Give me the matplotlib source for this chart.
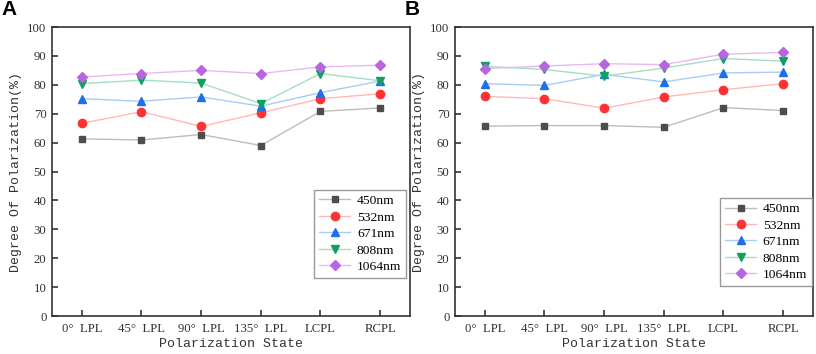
import matplotlib.pyplot as plt

states = ['0°  LPL', '45°  LPL', '90°  LPL', '135°  LPL', 'LCPL', 'RCPL']
wavelengths = ['450nm', '532nm', '671nm', '808nm', '1064nm']

# panel A
a_450 = [61.3, 60.9, 62.8, 59.0, 70.8, 72.0]
a_532 = [66.7, 70.7, 65.6, 70.3, 75.2, 76.9]
a_671 = [75.2, 74.3, 75.8, 72.6, 77.3, 81.3]
a_808 = [80.4, 81.6, 80.6, 73.5, 83.9, 81.4]
a_1064 = [82.7, 83.9, 85.0, 83.9, 86.2, 86.8]

# panel B
b_450 = [65.7, 65.9, 65.9, 65.3, 72.1, 71.1]
b_532 = [76.0, 75.2, 71.9, 75.8, 78.3, 80.4]
b_671 = [80.4, 79.8, 83.6, 81.0, 84.1, 84.4]
b_808 = [86.4, 85.3, 83.0, 85.8, 89.1, 88.2]
b_1064 = [85.6, 86.5, 87.3, 87.0, 90.6, 91.2]

marker_colors = ['#4d4d4d', '#ff3333', '#1f6fe8', '#10a060', '#b865e0']
line_colors = ['#bdbdbd', '#ffb8b8', '#a8cdf5', '#a4dfc4', '#e8b8f5']
markers = ['s', 'o', '^', 'v', 'D']
msizes = [5, 6, 6, 6, 5]

plt.rcParams['font.family'] = ['Liberation Serif', 'DejaVu Serif']
label_font = 'Liberation Mono'

fig = plt.figure(figsize=(8.16, 3.54), dpi=100)
ax_a = fig.add_axes([0.0637, 0.1073, 0.4387, 0.8164])
ax_b = fig.add_axes([0.5576, 0.1073, 0.4387, 0.8164])

panels = [
    (ax_a, [a_450, a_532, a_671, a_808, a_1064], 'A', (0.989, 0.436)),
    (ax_b, [b_450, b_532, b_671, b_808, b_1064], 'B', (0.997, 0.408)),
]

x = list(range(len(states)))
for ax, series, letter, leg_pos in panels:
    for i, vals in enumerate(series):
        ax.plot(x, vals, color=line_colors[i], lw=1.0, marker=markers[i],
                markersize=msizes[i], markerfacecolor=marker_colors[i],
                markeredgecolor=marker_colors[i], label=wavelengths[i])
    ax.set_xlim(-0.5, 5.5)
    ax.set_ylim(0, 100)
    ax.set_yticks(range(0, 101, 10))
    ax.set_xticks(x)
    ax.set_xticklabels(states, fontsize=9.2, color='#333333')
    ax.tick_params(axis='y', labelsize=9.2, labelcolor='#333333', pad=4)
    ax.tick_params(axis='x', pad=5)
    ax.tick_params(direction='in', length=4, width=1.2, color='#333333')
    for sp in ax.spines.values():
        sp.set_linewidth(1.2)
        sp.set_color('#333333')
    ax.set_xlabel('Polarization State', fontsize=9.5, color='#333333',
                  labelpad=2, family=label_font)
    ax.set_ylabel('Degree Of Polarization(%)', fontsize=9.5, color='#333333',
                  labelpad=4, family=label_font)
    leg = ax.legend(loc='upper right', bbox_to_anchor=leg_pos,
                    prop={'family': 'Liberation Serif', 'size': 9.7},
                    fancybox=False, edgecolor='#999999', framealpha=1,
                    handlelength=2.3, borderpad=0.35, labelspacing=0.3,
                    handletextpad=0.5, borderaxespad=0)
    leg.get_frame().set_linewidth(1.0)
    ax.text(-0.14, 1.095, letter, transform=ax.transAxes, fontsize=15,
            fontweight='bold', family='Liberation Sans', ha='left', va='top')

fig.savefig('out.png', dpi=100)
